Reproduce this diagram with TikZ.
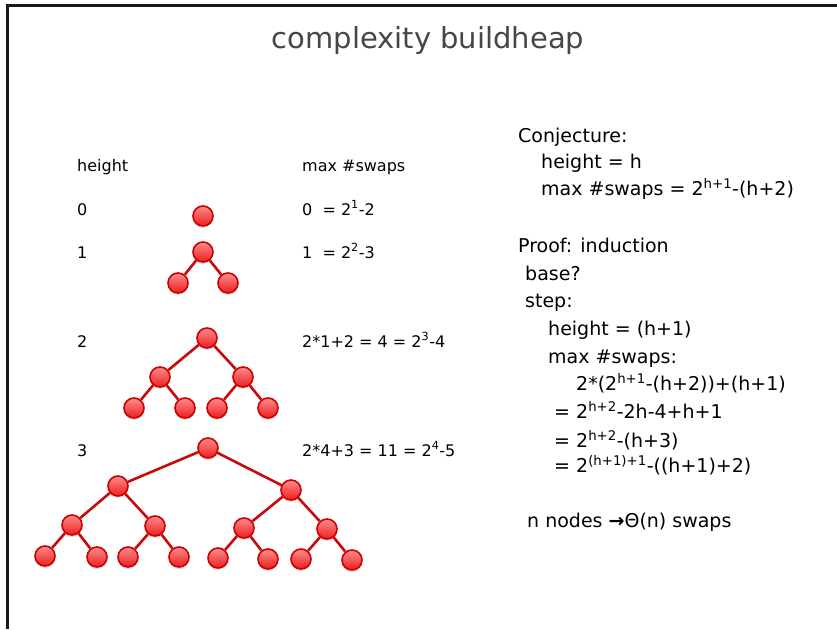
\documentclass[tikz,border=0pt]{standalone}
\usepackage{fontspec}
\setmainfont{DejaVu Sans}
\usetikzlibrary{shadows}
\definecolor{heapred}{RGB}{204,0,0}
\definecolor{heapedge}{RGB}{200,10,10}
\definecolor{heaplight}{RGB}{255,140,140}
\definecolor{heapfill}{RGB}{235,30,30}
\definecolor{titlegray}{RGB}{70,70,70}
\tikzset{
  hnode/.style={circle, minimum size=20pt, inner sep=0pt, draw=heapred, line width=1.6pt,
    top color=heaplight, bottom color=heapfill,
    drop shadow={opacity=0.25, shadow xshift=0pt, shadow yshift=-2pt}},
  hedge/.style={draw=heapedge, line width=2.6pt},
  lbl/.style={anchor=base west, inner sep=0pt, font=\fontsize{16}{19}\selectfont},
  rtxt/.style={anchor=base west, inner sep=0pt, font=\fontsize{19}{23}\selectfont},
}
\newcommand{\spr}[1]{\textsuperscript{#1}}
\begin{document}
\begin{tikzpicture}[x=1pt, y=-1pt]
\useasboundingbox (0,0) rectangle (837,629);
% frame
\draw[line width=3pt, color=black!90] (837,5) -- (7,5) -- (7,629);
% title
\node[anchor=base, inner sep=0pt, text=titlegray, font=\fontsize{29}{34}\selectfont] (title) at (428,48) {complexity buildheap};
% left labels
\node[lbl] (hh) at (77,171) {height};
\node[lbl] (ms) at (302,171) {max \#swaps};
\node[lbl] (h0) at (77,215) {0};
\node[lbl] (m0) at (302,215) {0\ \ = 2\spr{1}-2};
\node[lbl] (h1) at (77,258) {1};
\node[lbl] (m1) at (302,258) {1\ \ = 2\spr{2}-3};
\node[lbl] (h2) at (77,347) {2};
\node[lbl] (m2) at (302,347) {2*1+2 = 4 = 2\spr{3}-4};
\node[lbl] (h3) at (77,456) {3};
\node[lbl] (m3) at (302,456) {2*4+3 = 11 = 2\spr{4}-5};
% tree height 0
\node[hnode] (a0) at (203,216) {};
% tree height 1
\node[hnode] (b0) at (203,252) {};
\node[hnode] (b1) at (178,283) {};
\node[hnode] (b2) at (228,283) {};
\draw[hedge] (b0) -- (b1); \draw[hedge] (b0) -- (b2);
% tree height 2
\node[hnode] (c0) at (207,338) {};
\node[hnode] (c1) at (160,377) {};
\node[hnode] (c2) at (243,377) {};
\node[hnode] (c3) at (134,408) {};
\node[hnode] (c4) at (185,408) {};
\node[hnode] (c5) at (217,408) {};
\node[hnode] (c6) at (268,408) {};
\draw[hedge] (c0) -- (c1); \draw[hedge] (c0) -- (c2);
\draw[hedge] (c1) -- (c3); \draw[hedge] (c1) -- (c4);
\draw[hedge] (c2) -- (c5); \draw[hedge] (c2) -- (c6);
% tree height 3
\node[hnode] (d0) at (208,448) {};
\node[hnode] (d1) at (118,486) {};
\node[hnode] (d2) at (291,490) {};
\node[hnode] (d3) at (72,525) {};
\node[hnode] (d4) at (155,526) {};
\node[hnode] (d5) at (244,528) {};
\node[hnode] (d6) at (327,529) {};
\node[hnode] (d7) at (45,556) {};
\node[hnode] (d8) at (97,557) {};
\node[hnode] (d9) at (128,557) {};
\node[hnode] (d10) at (179,557) {};
\node[hnode] (d11) at (218,558) {};
\node[hnode] (d12) at (268,559) {};
\node[hnode] (d13) at (301,559) {};
\node[hnode] (d14) at (352,560) {};
\draw[hedge] (d0) -- (d1); \draw[hedge] (d0) -- (d2);
\draw[hedge] (d1) -- (d3); \draw[hedge] (d1) -- (d4);
\draw[hedge] (d2) -- (d5); \draw[hedge] (d2) -- (d6);
\draw[hedge] (d3) -- (d7); \draw[hedge] (d3) -- (d8);
\draw[hedge] (d4) -- (d9); \draw[hedge] (d4) -- (d10);
\draw[hedge] (d5) -- (d11); \draw[hedge] (d5) -- (d12);
\draw[hedge] (d6) -- (d13); \draw[hedge] (d6) -- (d14);
% right text
\node[rtxt] (r1) at (518,142) {Conjecture:};
\node[rtxt] (r2) at (541,168) {height = h};
\node[rtxt] (r3) at (541,195) {max \#swaps = 2\spr{h+1}-(h+2)};
\node[rtxt] (r4) at (518,252) {Proof: induction};
\node[rtxt] (r5) at (525,280) {base?};
\node[rtxt] (r6) at (525,307) {step:};
\node[rtxt] (r7) at (548,335) {height = (h+1)};
\node[rtxt] (r8) at (548,363) {max \#swaps:};
\node[rtxt] (r9) at (576,390) {2*(2\spr{h+1}-(h+2))+(h+1)};
\node[rtxt] (r10) at (554,418) {= 2\spr{h+2}-2h-4+h+1};
\node[rtxt] (r11) at (554,447) {= 2\spr{h+2}-(h+3)};
\node[rtxt] (r12) at (554,472) {= 2\spr{(h+1)+1}-((h+1)+2)};
\node[rtxt] (r13) at (527,527) {n nodes \textbf{→}Θ(n) swaps};
\end{tikzpicture}
\end{document}
